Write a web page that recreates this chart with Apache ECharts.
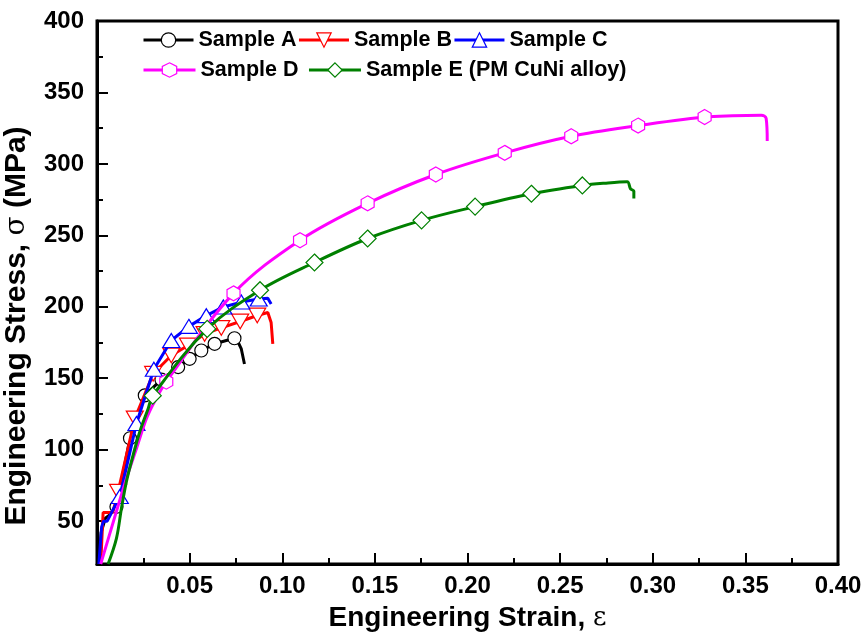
<!DOCTYPE html>
<html><head><meta charset="utf-8">
<script src="https://cdn.jsdelivr.net/npm/echarts@6/dist/echarts.min.js"></script>
<style>html,body{margin:0;padding:0;background:#fff}#c{width:868px;height:634px}</style>
</head><body><div id="c"></div><script>
// ---- axis ticks ----
const xTickInterval = 0.05;
const yTicks = [50, 100, 150, 200, 250, 300, 350, 400];
const yMinorTicks = [25, 75, 125, 175, 225, 275, 325, 375];

// ---- data: [strain, stress(MPa)] ----
const sampleA_curve = [[0.001, 20], [0.0022, 42], [0.0045, 52], [0.0065, 54], [0.0761, 175.5], [0.0779, 170.5], [0.0796, 160]];
const sampleA_markers = [[0.0105, 60], [0.0178, 108], [0.0258, 138], [0.0348, 149], [0.0438, 157.8], [0.0500, 163.6], [0.0563, 169.4], [0.0635, 174.1], [0.0742, 178]];

const sampleB_curve = [[0.002, 20], [0.0033, 56], [0.0085, 56], [0.0922, 196], [0.094, 189], [0.0949, 174]];
const sampleB_markers = [[0.0114, 70.6], [0.0204, 121.8], [0.0303, 153.1], [0.0401, 165.9], [0.0491, 172.9], [0.0581, 181], [0.0671, 185.2], [0.0773, 189.7], [0.0865, 193.9]];

const sampleC_curve = [[0.001, 20], [0.0025, 46], [0.0035, 50], [0.0055, 50], [0.0922, 206], [0.094, 202]];
const sampleC_markers = [[0.0123, 67.2], [0.0213, 118.3], [0.0307, 156.3], [0.0401, 176.4], [0.0496, 186.3], [0.0590, 193.8], [0.0682, 199.9], [0.0779, 203.3], [0.0873, 205.4]];

const sampleD_curve = [[0.002, 20], [0.0051, 33.4], [0.0105, 56.9], [0.0159, 79.9], [0.0213, 100.8], [0.0267, 121.8], [0.031, 133.6], [0.343, 333.7], [0.3586, 334], [0.3612, 332], [0.3618, 316]];
const sampleD_markers = [[0.0374, 147.6], [0.0737, 209.4], [0.1096, 246.6], [0.1461, 272.4], [0.1829, 292.6], [0.2201, 307.7], [0.2560, 319.3], [0.2921, 326.8], [0.3280, 332.8]];

const sampleE_curve = [[0.006, 20], [0.0105, 38], [0.0132, 59], [0.0159, 77.8], [0.0195, 96.2], [0.0231, 112.5], [0.0276, 128.7], [0.274, 286.5], [0.2862, 287.5], [0.288, 282.6], [0.2898, 281], [0.2898, 275.7]];
const sampleE_markers = [[0.0301, 137.8], [0.0595, 184.5], [0.0880, 211.6], [0.1174, 231.0], [0.1461, 247.8], [0.1752, 260.5], [0.2041, 270.1], [0.2345, 279.1], [0.2620, 284.9]];

const names = ['Sample A', 'Sample B', 'Sample C', 'Sample D', 'Sample E (PM CuNi alloy)'];

// ---- styles ----
const FONT = 'Liberation Sans, Arial, sans-serif';
const downTri = 'path://M0,0L2,0L1,1.732Z';
const hexagon = 'path://M0.866,0L1.732,0.5L1.732,1.5L0.866,2L0,1.5L0,0.5Z';
const styles = [
  {color: '#000000', symbol: 'circle', size: 13, smooth: false},
  {color: '#ff0000', symbol: downTri, size: 17, smooth: false},
  {color: '#0000ff', symbol: 'triangle', size: [17, 14], smooth: false},
  {color: '#ff00ff', symbol: hexagon, size: 15, smooth: 0.35},
  {color: '#008000', symbol: 'diamond', size: 17, smooth: 0.35}
];
const curves = [sampleA_curve, sampleB_curve, sampleC_curve, sampleD_curve, sampleE_curve];
const markers = [sampleA_markers, sampleB_markers, sampleC_markers, sampleD_markers, sampleE_markers];

const series = [];
names.forEach((n, i) => {
  const s = styles[i];
  const merged = curves[i].concat(markers[i]).sort((a, b) => a[0] - b[0]);
  series.push({
    name: n, type: 'line', data: merged, showSymbol: false,
    symbol: s.symbol, symbolSize: s.size, symbolKeepAspect: true,
    smooth: s.smooth,
    lineStyle: {color: s.color, width: 3},
    itemStyle: {color: '#fff', borderColor: s.color, borderWidth: 1},
    emphasis: {disabled: true}, silent: true, z: 2 + i * 2
  });
  series.push({
    name: n + ' markers', type: 'scatter', data: markers[i],
    symbol: s.symbol, symbolSize: s.size, symbolKeepAspect: true,
    itemStyle: {color: '#fff', borderColor: s.color, borderWidth: 1.2, opacity: 1},
    emphasis: {disabled: true}, silent: true, z: 3 + i * 2
  });
});

function legendItem(i) {
  const s = styles[i];
  return {name: names[i], itemStyle: {color: '#fff', borderColor: s.color, borderWidth: 1.2, opacity: 1},
          lineStyle: {color: s.color, width: 3}};
}
const legendText = {fontFamily: FONT, fontWeight: 'bold', fontSize: 21.5, color: '#000'};

const chart = echarts.init(document.getElementById('c'), null, {renderer: 'canvas'});
chart.setOption({
  animation: false,
  backgroundColor: '#fff',
  grid: {left: 97, right: 30, top: 21, bottom: 70, show: true, borderColor: '#000', borderWidth: 3, backgroundColor: 'transparent'},
  legend: [
    {data: [legendItem(0), legendItem(1), legendItem(2)], left: 142, top: 29, orient: 'horizontal',
     itemWidth: 50, itemHeight: 18, itemGap: 1, padding: 0, textStyle: legendText, selectedMode: false,
     lineStyle: {width: 3}},
    {data: [legendItem(3), legendItem(4)], left: 142, top: 59, orient: 'horizontal',
     itemWidth: 52, itemHeight: 18, itemGap: 9, padding: 0, textStyle: legendText, selectedMode: false,
     lineStyle: {width: 3}}
  ],
  xAxis: {
    type: 'value', min: 0, max: 0.4, interval: xTickInterval,
    axisLine: {show: true, lineStyle: {color: '#000', width: 3}},
    axisTick: {show: true, inside: true, length: 11, lineStyle: {color: '#000', width: 2}},
    minorTick: {show: true, splitNumber: 2, length: 6, lineStyle: {color: '#000', width: 2}},
    splitLine: {show: false}, minorSplitLine: {show: false},
    axisLabel: {margin: 10, fontFamily: FONT, fontWeight: 'bold', fontSize: 24, color: '#000',
      formatter: v => (v === 0 ? '' : v.toFixed(2))}
  },
  yAxis: [
    {type: 'value', min: 20, max: 400, position: 'left',
     axisLine: {show: true, lineStyle: {color: '#000', width: 3}},
     axisTick: {show: true, inside: true, length: 11, customValues: yTicks, lineStyle: {color: '#000', width: 2}},
     splitLine: {show: false},
     axisLabel: {margin: 13, customValues: yTicks, fontFamily: FONT, fontWeight: 'bold', fontSize: 24, color: '#000'}},
    {type: 'value', min: 20, max: 400, position: 'left',
     axisLine: {show: false},
     axisTick: {show: true, inside: true, length: 6, customValues: yMinorTicks, lineStyle: {color: '#000', width: 2}},
     splitLine: {show: false}, axisLabel: {show: false}}
  ],
  graphic: [
    {type: 'text', x: 467.5, y: 618, style: {
      text: '{a|Engineering Strain, }{b|ε}', align: 'center', verticalAlign: 'middle',
      rich: {a: {fontFamily: FONT, fontWeight: 'bold', fontSize: 28, fill: '#000', color: '#000'},
             b: {fontFamily: 'DejaVu Serif, serif', fontWeight: 'normal', fontSize: 26, fill: '#000', color: '#000'}}}},
    {type: 'text', x: 16.5, y: 326, rotation: Math.PI / 2, style: {
      text: '{a|Engineering Stress, }{b|σ}{a| (MPa)}', align: 'center', verticalAlign: 'middle',
      rich: {a: {fontFamily: FONT, fontWeight: 'bold', fontSize: 30, fill: '#000', color: '#000'},
             b: {fontFamily: 'DejaVu Serif, serif', fontWeight: 'normal', fontSize: 28, fill: '#000', color: '#000'}}}}
  ],
  series: series
});
</script></body></html>
